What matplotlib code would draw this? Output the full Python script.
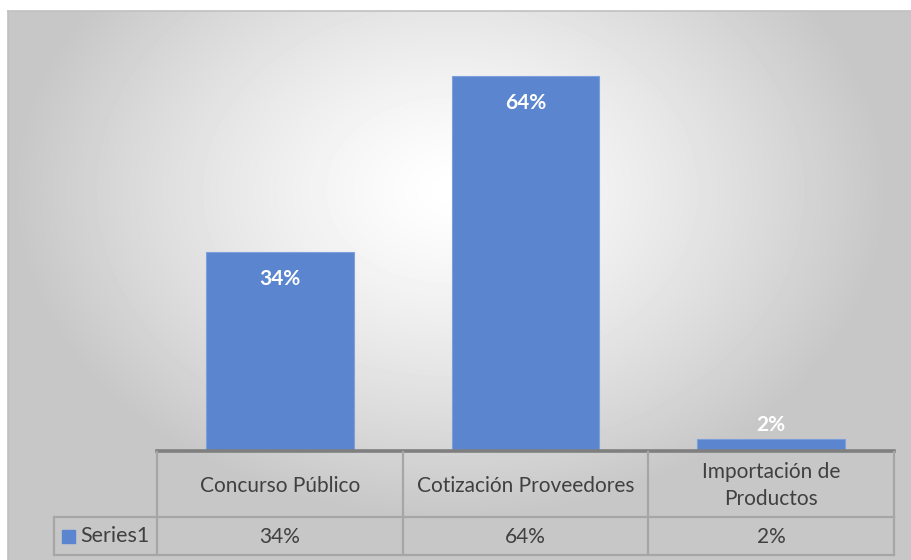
import matplotlib.pyplot as plt
import numpy as np

categories = ['Concurso Público', 'Cotización Proveedores', 'Importación de\nProductos']
values = [0.34, 0.64, 0.02]
labels = ['34%', '64%', '2%']
series_name = 'Series1'

W, H = 911, 560
bar_color = '#5b86cf'
line_color = '#a6a6a6'
text_color = '#404040'
plt.rcParams['font.family'] = ['Lato', 'DejaVu Sans']

fig = plt.figure(figsize=(W / 100, H / 100), dpi=100)

def fx(px):
    return px / W

def fy(py):
    return 1 - py / H

# chart area background: radial grey gradient
bg = fig.add_axes([fx(8), 0, fx(W - 8), fy(11)], zorder=0)
xx, yy = np.meshgrid(np.arange(8, W), np.arange(11, H))
r = np.sqrt(((xx - 450) / 480.0) ** 2 + ((yy - 190) / 360.0) ** 2)
shade = np.clip(1 - 0.25 * r ** 1.3, 0.78, 1)
bg.imshow(shade, cmap='gray', vmin=0, vmax=1, aspect='auto', interpolation='bilinear')
bg.axis('off')
fig.add_artist(plt.Line2D([fx(8), fx(W)], [fy(11), fy(11)], color='#c0c0c0', lw=1.2))
fig.add_artist(plt.Line2D([fx(8), fx(8)], [fy(11), 0], color='#c0c0c0', lw=1.2))

# bars
x0, x1, ytop, ybase = 157, 894, 41, 451
ax = fig.add_axes([fx(x0), fy(ybase), fx(x1 - x0), (ybase - ytop) / H], zorder=2)
ax.patch.set_alpha(0)
pos = np.arange(len(values))
ax.bar(pos, values, width=0.6, color=bar_color, edgecolor='#7d9fdb', linewidth=0.8)
ax.set_xlim(-0.5, len(values) - 0.5)
ax.set_ylim(0, 0.7)
ax.axis('off')
for p, v, lab in zip(pos, values, labels):
    off = -27 if v > 0.05 else 14
    ax.annotate(lab, (p, v), xytext=(0, off), textcoords='offset pixels',
                ha='center', va='center', color='white', fontsize=15, fontweight='bold')

# data table
row1, row2, tbot = 452, 517, 555
colw = (x1 - x0) / len(categories)
lw = 1.6
fig.add_artist(plt.Line2D([fx(x0), fx(x1)], [fy(451), fy(451)], color='#7f7f7f', lw=2.6, zorder=3))
fig.add_artist(plt.Line2D([fx(54), fx(x1)], [fy(row2), fy(row2)], color=line_color, lw=lw, zorder=3))
fig.add_artist(plt.Line2D([fx(54), fx(x1)], [fy(tbot), fy(tbot)], color=line_color, lw=lw, zorder=3))
fig.add_artist(plt.Line2D([fx(54), fx(54)], [fy(row2), fy(tbot)], color=line_color, lw=lw, zorder=3))
for i in range(len(categories) + 1):
    xc = x0 + i * colw
    fig.add_artist(plt.Line2D([fx(xc), fx(xc)], [fy(row1), fy(tbot)], color=line_color, lw=lw, zorder=3))

for i, (cat, lab) in enumerate(zip(categories, labels)):
    xc = x0 + (i + 0.5) * colw
    fig.text(fx(xc), fy((row1 + row2) / 2 + 1), cat, ha='center', va='center',
             color=text_color, fontsize=15, linespacing=1.4)
    fig.text(fx(xc), fy((row2 + tbot) / 2 + 1), lab, ha='center', va='center',
             color=text_color, fontsize=15)

fig.add_artist(plt.Rectangle((fx(62), fy(543)), fx(13), 13 / H, color=bar_color, zorder=3))
fig.text(fx(80), fy(536.5), series_name, ha='left', va='center', color=text_color, fontsize=15.5)

fig.savefig('out.png', dpi=100)
